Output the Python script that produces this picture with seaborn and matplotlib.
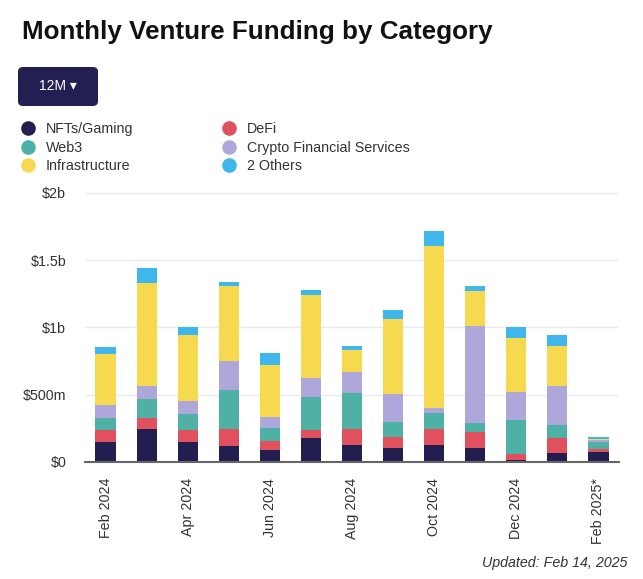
import matplotlib
matplotlib.use("Agg")
import matplotlib.pyplot as plt
from matplotlib.patches import FancyBboxPatch
from matplotlib.lines import Line2D
import seaborn as sns
import pandas as pd
import numpy as np

months = ["Feb 2024", "Mar 2024", "Apr 2024", "May 2024", "Jun 2024", "Jul 2024",
          "Aug 2024", "Sep 2024", "Oct 2024", "Nov 2024", "Dec 2024", "Jan 2025", "Feb 2025*"]

# values in $ millions
nfts_gaming = [146, 245, 146, 116, 87, 178, 124, 104, 124, 104, 12, 67, 77]
defi = [89, 82, 89, 132, 69, 60, 121, 82, 121, 119, 45, 109, 18]
web3 = [92, 144, 122, 287, 94, 245, 268, 111, 119, 67, 255, 99, 53]
crypto_fin = [94, 94, 99, 213, 82, 139, 156, 206, 37, 721, 208, 288, 12]
infrastructure = [382, 761, 486, 561, 392, 617, 161, 558, 1205, 258, 402, 299, 10]
others = [50, 111, 59, 29, 89, 40, 32, 67, 109, 37, 79, 80, 14]

categories = ["NFTs/Gaming", "DeFi", "Web3", "Crypto Financial Services", "Infrastructure", "2 Others"]
series = [nfts_gaming, defi, web3, crypto_fin, infrastructure, others]
colors = ["#231e50", "#e0505d", "#4fb1a5", "#ada7da", "#f6d94f", "#3fb6ec"]

xtick_labels = ["Feb 2024", "Apr 2024", "Jun 2024", "Aug 2024", "Oct 2024", "Dec 2024", "Feb 2025*"]
ytick_values = [0, 500, 1000, 1500, 2000]
ytick_labels = ["$0", "$500m", "$1b", "$1.5b", "$2b"]

FONT = ["Liberation Sans", "DejaVu Sans"]
sns.set_theme(style="white")
plt.rcParams["font.family"] = FONT

df = pd.DataFrame({"month": months})
for name, vals in zip(categories, series):
    df[name] = vals
cum = df[categories].cumsum(axis=1)

fig = plt.figure(figsize=(6.43, 5.79), dpi=100)
ax = fig.add_axes([85 / 643, 1 - 462 / 579, 534 / 643, (462 - 192.0) / 579])

for name, col in reversed(list(zip(categories, colors))):
    sns.barplot(x=df["month"], y=cum[name], order=months, color=col, saturation=1,
                width=0.49, linewidth=0, edgecolor="none", ax=ax, zorder=3)

ax.set_xlim(-0.5, len(months) - 0.5)
ax.set_ylim(0, 2005)
ax.set_yticks(ytick_values)
ax.set_yticklabels(ytick_labels)
ax.set_xticks(range(0, len(months), 2))
ax.set_xticklabels(xtick_labels, rotation=90)
ax.set_xlabel("")
ax.set_ylabel("")
ax.grid(axis="y", color="#e9e9e9", linewidth=1, zorder=0)
ax.set_axisbelow(True)
for s in ["top", "right", "left"]:
    ax.spines[s].set_visible(False)
ax.spines["bottom"].set_color("#666666")
ax.spines["bottom"].set_linewidth(1.5)
ax.spines["bottom"].set_zorder(5)
ax.tick_params(axis="y", length=0, pad=13.5, labelsize=10.3, labelcolor="#333333")
ax.tick_params(axis="x", length=0, pad=11.5, labelsize=10.3, labelcolor="#333333")

# title
fig.text(22 / 643, 1 - 38.5 / 579, "Monthly Venture Funding by Category", fontsize=18.7,
         fontweight="bold", color="#111111", ha="left", va="baseline")

# button
btn = FancyBboxPatch((18 / 643, 1 - 106 / 579), 80 / 643, 39 / 579,
                     boxstyle="round,pad=0,rounding_size=0.008",
                     transform=fig.transFigure, facecolor="#241f52", edgecolor="none")
fig.patches.append(btn)
fig.text(58 / 643, 1 - 86.5 / 579, "12M \u25BE", color="white", fontsize=10,
         ha="center", va="center")

# legend
order = [0, 2, 4, 1, 3, 5]
handles = [Line2D([], [], linestyle="none", marker="o", markersize=10.5,
                  markerfacecolor=colors[i], markeredgecolor="none") for i in order]
labels = [categories[i] for i in order]
fig.legend(handles, labels, ncol=2, loc="upper left",
           bbox_to_anchor=(21 / 643, 1 - 122 / 579), frameon=False,
           fontsize=10.3, labelcolor="#333333", handlelength=1.0,
           handletextpad=0.75, columnspacing=6.2, labelspacing=0.32,
           borderpad=0, borderaxespad=0)

fig.text(627 / 643, 1 - 563 / 579, "Updated: Feb 14, 2025", fontsize=10.3,
         fontstyle="italic", color="#333333", ha="right", va="center")

fig.savefig("out.png", dpi=100)
